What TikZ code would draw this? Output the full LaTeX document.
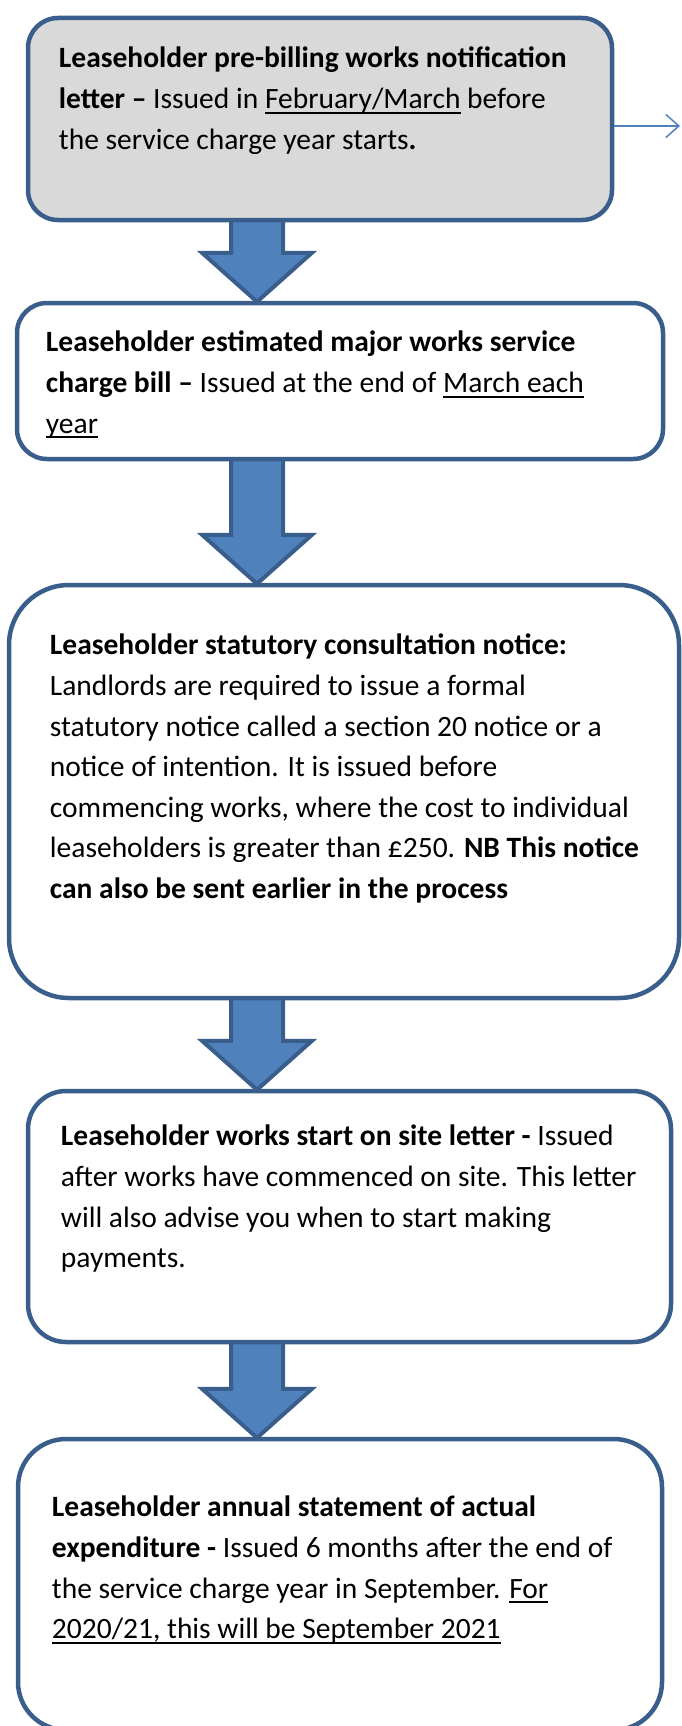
\documentclass[tikz,border=0pt]{standalone}
\usepackage{fontspec}
\setmainfont{Carlito}
\usepackage{tikz}
\usetikzlibrary{calc,arrows.meta}

\definecolor{stepedge}{HTML}{3A5E8C}
\definecolor{stepblue}{HTML}{4F81BD}
\definecolor{stepgrey}{HTML}{D9D9D9}

% underline at a fixed depth, like a word processor does it
\newcommand{\undl}[1]{\setbox0\hbox{#1}\rlap{\rule[-5pt]{\wd0}{1.8pt}}\box0\relax}

\tikzset{
	stepbox/.style={draw=stepedge, line width=4.5pt, inner sep=0pt, fill=white},
	% the strut fixes the first baseline 28.4pt under the node's top
	steptext/.style={anchor=north west, inner sep=0pt, align=left, font=\fontsize{29.5}{40.6}\selectfont},
	downarrow/.style={draw=stepedge, line width=4pt, fill=stepblue, line join=miter},
}

\begin{document}
\begin{tikzpicture}[x=1pt,y=-1pt]
	\useasboundingbox (0,0) rectangle (681,1726);
	% the five steps
	\node[stepbox, fill=stepgrey, rounded corners=30pt, minimum width=584pt, minimum height=202pt] (b1) at (320,119) {};
	\node[stepbox, rounded corners=30pt, minimum width=646pt, minimum height=156pt] (b2) at (340,381) {};
	\node[stepbox, rounded corners=60pt, minimum width=670pt, minimum height=413pt] (b3) at (344,791.5) {};
	\node[stepbox, rounded corners=38pt, minimum width=643pt, minimum height=251pt] (b4) at (349.5,1216.5) {};
	\node[stepbox, rounded corners=48pt, minimum width=644pt, minimum height=291pt] (b5) at (340,1584.5) {};

	\node[steptext] (t1) at ($(b1.north west)+(33,23.6)$) {\strut\textbf{Leaseholder pre-billing works notification}\\
		\textbf{letter –} Issued in \undl{February/March} before\\
		the service charge year starts\textbf{.}};
	\node[steptext] (t2) at ($(b2.north west)+(31,22.6)$) {\strut\textbf{Leaseholder estimated major works service}\\
		\textbf{charge bill –} Issued at the end of \undl{March each}\\
		\undl{year}};
	\node[steptext] (t3) at ($(b3.north west)+(43,43.6)$) {\strut\textbf{Leaseholder statutory consultation notice:}\\
		Landlords are required to issue a formal\\
		statutory notice called a section 20 notice or a\\
		notice of intention. It is issued before\\
		commencing works, where the cost to individual\\
		leaseholders is greater than £250. \textbf{NB This notice}\\
		\textbf{can also be sent earlier in the process}};
	\node[steptext] (t4) at ($(b4.north west)+(35,28.6)$) {\strut\textbf{Leaseholder works start on site letter -} Issued\\
		after works have commenced on site. This letter\\
		will also advise you when to start making\\
		payments.};
	\node[steptext] (t5) at ($(b5.north west)+(36,51.6)$) {\strut\textbf{Leaseholder annual statement of actual}\\
		\textbf{expenditure -} Issued 6 months after the end of\\
		the service charge year in September. \undl{For}\\
		\undl{2020/21, this will be September 2021}};

	% block arrows from one step to the next
	\coordinate (ax) at (257,0);
	\foreach \a/\b in {b1/b2,b2/b3,b3/b4,b4/b5}
		\draw[downarrow] ($(ax|-\a.south)+(-26,-2)$) -- ($(ax|-\b.north)+(-26,-48)$)
			-- ($(ax|-\b.north)+(-55,-48)$) -- ($(ax|-\b.north)+(0,1)$)
			-- ($(ax|-\b.north)+(55,-48)$) -- ($(ax|-\b.north)+(26,-48)$)
			-- ($(ax|-\a.south)+(26,-2)$) -- cycle;

	%\draw[->] (b1.east) -- +(60,0);
	\coordinate (note) at (680,126);
	\draw[stepblue, line width=1.5pt, -{Straight Barb[length=13pt,width=23pt]}] (b1.east |- note) -- (note);
\end{tikzpicture}
\end{document}
